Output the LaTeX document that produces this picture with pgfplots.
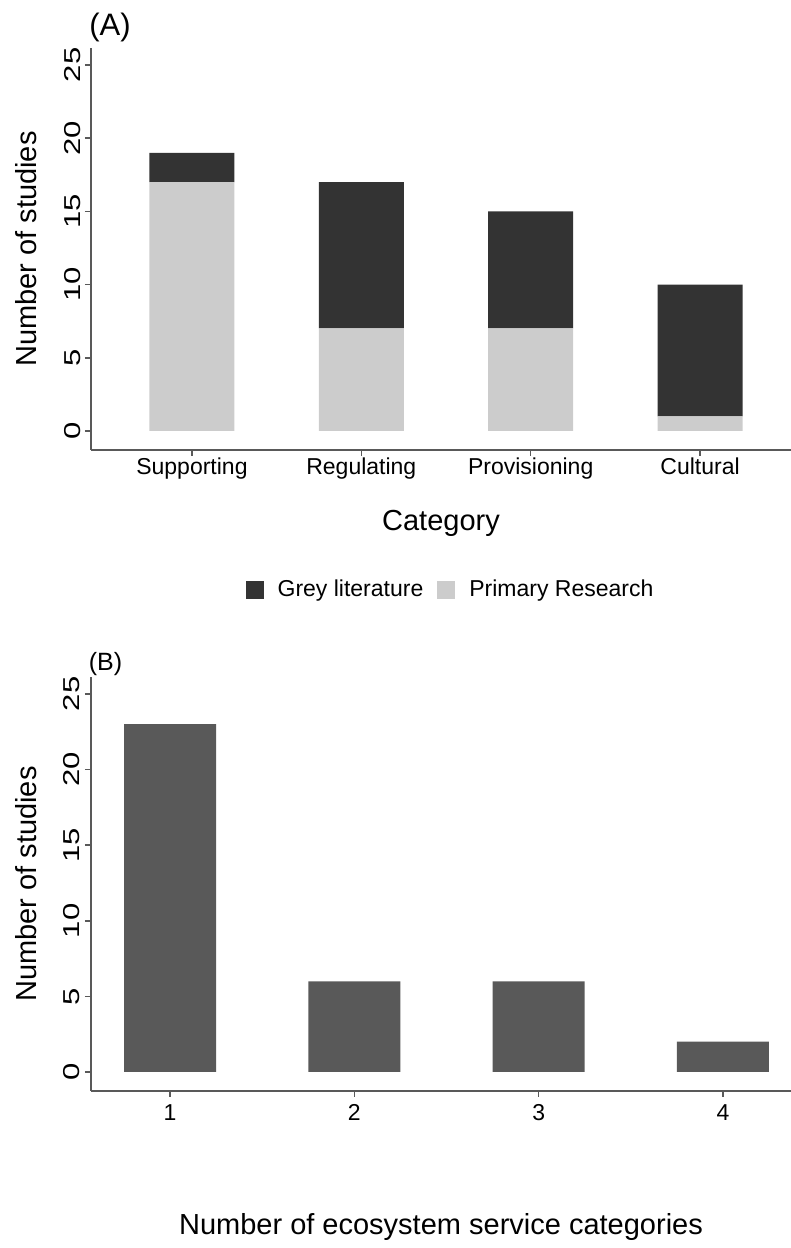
\documentclass[border=0pt]{standalone}
\usepackage{fontspec}
\setmainfont{Liberation Sans}
\usepackage{pgfplots}
\pgfplotsset{compat=1.18}

\definecolor{greylit}{HTML}{333333}
\definecolor{primary}{HTML}{CCCCCC}
\definecolor{countbar}{HTML}{595959}
\definecolor{axisgrey}{HTML}{595959}

\newcommand{\ticksize}{\fontsize{11.5}{14}\selectfont}
\newcommand{\titlesize}{\fontsize{14.5}{17}\selectfont}

\pgfplotsset{
  panel/.style={
    scale only axis,
    width=350pt,
    axis lines*=left,
    axis line style={axisgrey, line width=0.75pt},
    tick align=outside,
    major tick length=3pt,
    tick style={axisgrey, line width=0.75pt},
    /pgf/number format/assume math mode=true,
    ticklabel style={font=\ticksize},
    label style={font=\titlesize},
    ytick={0,5,...,25},
    yticklabel style={xshift=-2.5pt, rotate=90, anchor=base, xscale=1.35},
    ylabel={Number of studies},
    ylabel style={at={(axis description cs:-0.0929,0.5)}, anchor=center},
    enlargelimits=false,
  },
}

\begin{document}
\begin{tikzpicture}
\useasboundingbox (0,0) rectangle (395.5pt,624pt);

% (A) service categories by literature type
\begin{axis}[panel,
  at={(45.5pt,399pt)}, anchor=south west,
  height=201pt,
  ybar stacked, bar width=42.5pt,
  xmin=0.404, xmax=4.537, ymin=-1.30, ymax=26.16,
  xtick={1,2,3,4},
  xticklabels={Supporting,Regulating,Provisioning,Cultural},
  xticklabel style={anchor=base, yshift=-9.5pt},
  xlabel={Category},
  xlabel style={at={(axis description cs:0.5,-0.2)}, anchor=base},
  reverse legend,
  legend columns=2,
  legend image code/.code={\fill[#1, draw=none] (0pt,-4.5pt) rectangle (9pt,4.5pt);
    \path[draw=none, fill=none] (0pt,-4.5pt) rectangle (14pt,4.5pt);},
  legend style={at={(axis description cs:0.515,-0.348)}, anchor=center,
    draw=none, fill=none, font=\ticksize,
    /tikz/every even column/.append style={column sep=5pt}},
]
\addplot[fill=primary, draw=none] coordinates {(1,17) (2,7) (3,7) (4,1)};
\addlegendentry{Primary Research}
\addplot[fill=greylit, draw=none] coordinates {(1,2) (2,10) (3,8) (4,9)};
\addlegendentry{Grey literature}
\end{axis}

% (B) number of categories per study
\begin{axis}[panel,
  at={(45.5pt,78.5pt)}, anchor=south west,
  height=207pt,
  ybar, bar width=46pt,
  xmin=0.571, xmax=4.369, ymin=-1.257, ymax=26.12,
  xtick={1,2,3,4},
  xticklabel style={anchor=base, yshift=-11.5pt},
  xlabel={Number of ecosystem service categories},
  xlabel style={at={(axis description cs:0.5,-0.3466)}, anchor=base},
]
\addplot[fill=countbar, draw=none] coordinates {(1,23) (2,6) (3,6) (4,2)};
\end{axis}

\node[font=\fontsize{15.5}{18}\selectfont, anchor=center] at (55pt,610.5pt) {(A)};
\node[font=\fontsize{12.5}{14}\selectfont, anchor=center] at (52.75pt,292pt) {(B)};
\end{tikzpicture}
\end{document}
